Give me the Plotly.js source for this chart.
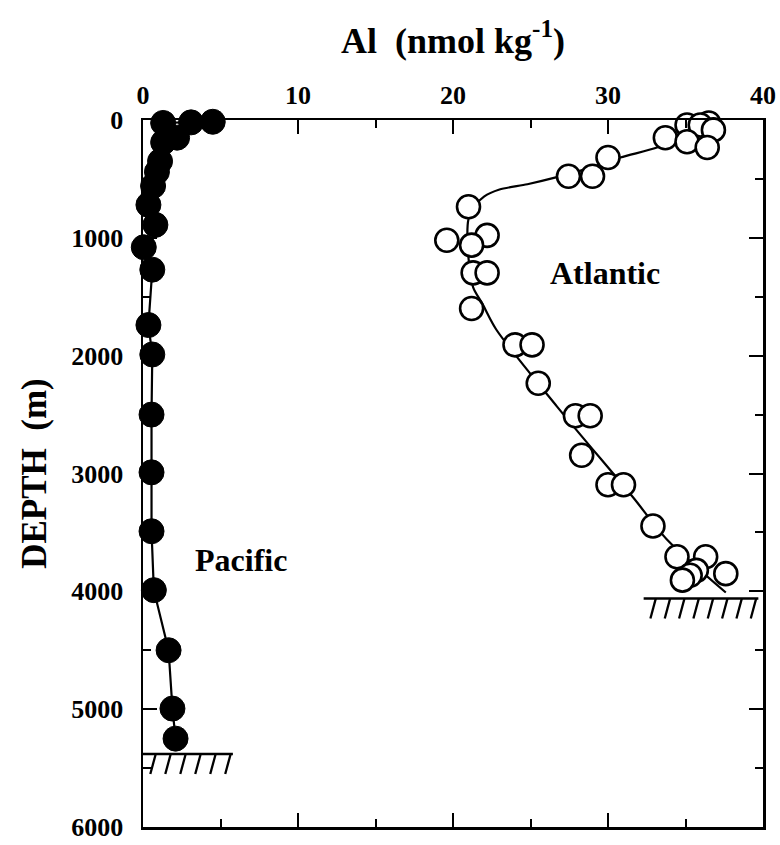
<!DOCTYPE html>
<html>
<head>
<meta charset="utf-8">
<script src="https://cdn.plot.ly/plotly-3.0.1.min.js"></script>
<style>
  html, body { margin: 0; padding: 0; background: #fff; }
  #chart { width: 780px; height: 845px; }
</style>
</head>
<body>
<div id="chart"></div>
<script>
// Dissolved aluminium profiles (nmol/kg) versus depth (m)

// Pacific station: filled circles
const pacificAl    = [4.5, 3.1, 1.3, 2.2, 1.3, 1.1, 0.9, 0.65, 0.35, 0.8, 0.05, 0.6, 0.35, 0.6, 0.55, 0.55, 0.55, 0.7, 1.65, 1.9, 2.1];
const pacificDepth = [15, 20, 25, 150, 190, 350, 440, 560, 720, 890, 1080, 1270, 1740, 1990, 2500, 2990, 3490, 3990, 4500, 4995, 5250];

// Atlantic station: open circles
const atlanticAl    = [36.5, 35.1, 35.95, 36.8, 33.7, 35.1, 36.4, 30.0, 29.0, 27.45, 21.0, 19.6, 22.2, 21.2, 21.3, 22.2, 21.2,
                       24.0, 25.1, 25.5, 27.9, 28.85, 28.3, 30.0, 31.0, 32.9, 34.45, 36.3, 37.6, 35.7, 35.3, 34.8];
const atlanticDepth = [25, 42, 42, 84, 150, 184, 234, 318, 477, 477, 736, 1021, 979, 1062, 1297, 1297, 1600,
                       1908, 1908, 2234, 2510, 2510, 2845, 3096, 3096, 3445, 3707, 3707, 3850, 3822, 3863, 3905];

// Smooth curve drawn through the Atlantic profile
const atlanticCurveAl    = [36.5, 35.2, 34.0, 33.2, 30.8, 28.6, 26.7, 24.8, 23.0, 22.0, 21.4, 21.0, 21.0, 21.3, 21.9, 22.8, 26.7, 31.6, 33.8, 37.6];
const atlanticCurveDepth = [30, 100, 175, 232, 318, 415, 485, 545, 590, 650, 730, 840, 1170, 1420, 1560, 1780, 2430, 3200, 3560, 4010];

// Sea floor at each station: depth and extent along the Al axis
const floorDepth = [5380, 4060];
const floorFrom  = [0.0, 32.3];
const floorTo    = [5.8, 39.7];
const floorHatch = [6, 8];

// Axis ticks
const xTicks = [0, 10, 20, 30, 40];
const yTicks = [0, 1000, 2000, 3000, 4000, 5000, 6000];

const serif = "Liberation Serif, Times New Roman, serif";

const traces = [
  {
    x: pacificAl, y: pacificDepth, type: "scatter", mode: "lines+markers", name: "Pacific",
    line: { color: "#000", width: 2.2 },
    marker: { size: 25, color: "#000", line: { color: "#000", width: 1 } },
    cliponaxis: false
  },
  {
    x: atlanticCurveAl, y: atlanticCurveDepth, type: "scatter", mode: "lines", name: "Atlantic fit",
    line: { color: "#000", width: 2.2, shape: "spline", smoothing: 0.8 }
  },
  {
    x: atlanticAl, y: atlanticDepth, type: "scatter", mode: "markers", name: "Atlantic",
    marker: { size: 23, color: "#fff", line: { color: "#000", width: 2.6 } },
    cliponaxis: false
  }
];

// Sea-floor symbols: a base line with slanted hatches below it
const shapes = [];
floorDepth.forEach((d, i) => {
  shapes.push({ type: "line", xref: "x", yref: "y", x0: floorFrom[i], x1: floorTo[i], y0: d, y1: d,
                line: { color: "#000", width: 2.5 } });
  const n = floorHatch[i];
  const step = (floorTo[i] - floorFrom[i]) / n;
  for (let k = 1; k <= n; k++) {
    const xt = floorFrom[i] + step * k - step * 0.15;
    shapes.push({ type: "line", xref: "x", yref: "y", x0: xt, x1: xt - 0.35, y0: d, y1: d + 170,
                  line: { color: "#000", width: 2.3 } });
  }
});

const axisCommon = {
  showline: true, linecolor: "#000", linewidth: 2.5, mirror: "allticks",
  ticks: "inside", ticklen: 14, tickwidth: 2, tickcolor: "#000",
  showgrid: false, zeroline: false, ticklabeloverflow: "allow",
  tickfont: { family: serif, size: 26, color: "#000", weight: "bold" }
};

const layout = {
  width: 780, height: 845,
  paper_bgcolor: "#fff", plot_bgcolor: "#fff",
  margin: { l: 143, r: 17, t: 120, b: 18 },
  showlegend: false,
  title: {
    text: "Al  (nmol kg<sup>-1</sup>)",
    font: { family: serif, size: 36, color: "#000", weight: "bold" },
    x: 0.5, xref: "paper", xanchor: "center",
    y: 1 - 40 / 845, yref: "container", yanchor: "middle"
  },
  xaxis: Object.assign({}, axisCommon, {
    range: [0, 40], side: "top", tickvals: xTicks, ticklabelstandoff: 3,
    minor: { dtick: 5, ticks: "inside", ticklen: 8, tickwidth: 2, tickcolor: "#000" }
  }),
  yaxis: Object.assign({}, axisCommon, {
    range: [6000, 0], tickvals: yTicks, ticklabelstandoff: 12,
    minor: { dtick: 500, ticks: "inside", ticklen: 8, tickwidth: 2, tickcolor: "#000" },
    title: { text: "DEPTH  (m)", standoff: 14,
             font: { family: serif, size: 35, color: "#000", weight: "bold" } }
  }),
  shapes: shapes,
  annotations: [
    { x: 29.8, y: 1297, xref: "x", yref: "y", text: "Atlantic", showarrow: false,
      font: { family: serif, size: 32, color: "#000", weight: "bold" } },
    { x: 6.3, y: 3730, xref: "x", yref: "y", text: "Pacific", showarrow: false,
      font: { family: serif, size: 32, color: "#000", weight: "bold" } }
  ]
};

Plotly.newPlot("chart", traces, layout, { staticPlot: true, displayModeBar: false });
</script>
</body>
</html>
